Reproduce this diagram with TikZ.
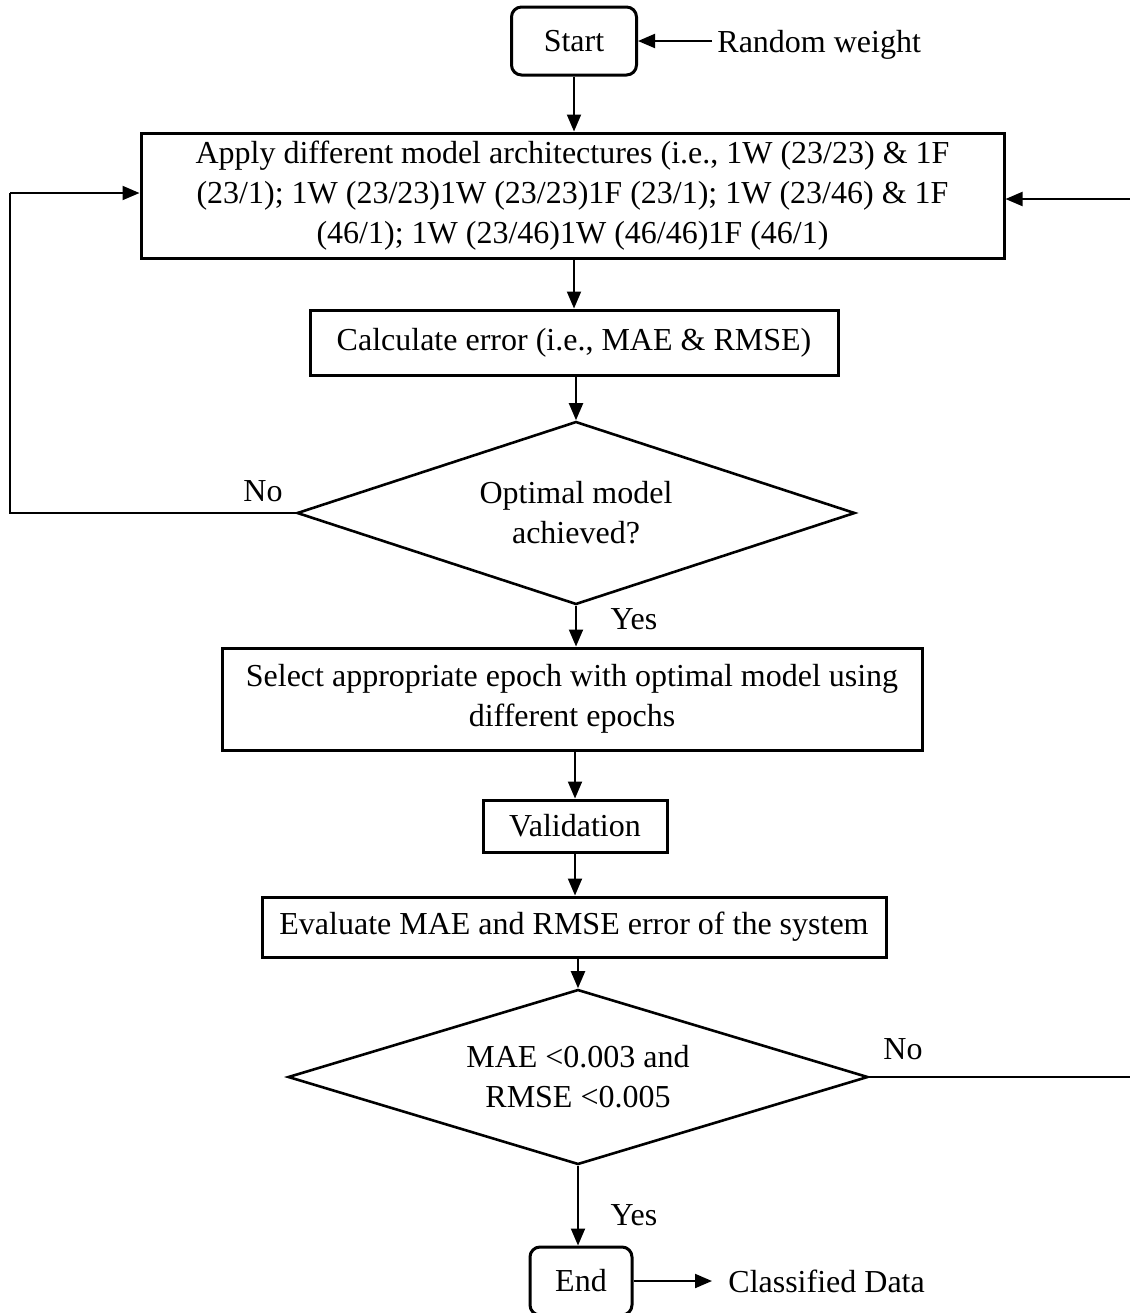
\documentclass[tikz,border=0pt]{standalone}
\usepackage{fontspec}
\setmainfont{Liberation Serif}
\usetikzlibrary{shapes.geometric,arrows.meta}
\begin{document}
\begin{tikzpicture}[x=0.5pt,y=-0.5pt,
  font=\fontsize{16pt}{20pt}\selectfont,
  box/.style={draw,line width=1.5pt,inner sep=0pt,align=center},
  term/.style={box,rounded corners=5pt},
  dec/.style={draw,diamond,aspect=3,line width=1.3pt,inner sep=0pt,align=center},
  arr/.style={line width=1pt,-{Triangle[length=8.5pt,width=7pt]}},
  loopline/.style={line width=0.7pt},
  lbl/.style={inner sep=0pt,text height=11pt,text depth=3.5pt}]
\useasboundingbox (0,0) rectangle (1130,1313);
\node[term,minimum width=62.5pt,minimum height=34pt] (start) at (574,41) {Start};
\node[lbl,anchor=west] (rw) at (717,45) {Random weight};
\node[box,minimum width=431.5pt,minimum height=62.5pt] (apply) at (572.5,195.5)
  {Apply different model architectures (i.e., 1W (23/23) \& 1F\\(23/1); 1W (23/23)1W (23/23)1F (23/1); 1W (23/46) \& 1F\\(46/1); 1W (23/46)1W (46/46)1F (46/1)};
\node[box,minimum width=264pt,minimum height=32.5pt] (calc) at (574,342.5) {Calculate error (i.e., MAE \& RMSE)};
\node[dec,minimum width=279pt,minimum height=91.5pt] (d1) at (576,513) {Optimal model\\achieved?};
\node[box,minimum width=350pt,minimum height=51pt] (sel) at (572,699)
  {Select appropriate epoch with optimal model using\\different epochs};
\node[box,minimum width=92pt,minimum height=26pt] (val) at (575,826) {Validation};
\node[box,minimum width=312pt,minimum height=30pt] (eval) at (574,927) {Evaluate MAE and RMSE error of the system};
\node[dec,minimum width=290pt,minimum height=87.5pt] (d2) at (578,1077) {MAE <0.003 and\\RMSE <0.005};
\node[term,minimum width=51pt,minimum height=34pt] (end) at (581,1281) {End};
\node[lbl,anchor=west] (cd) at (728,1285) {Classified Data};
\node[lbl] (no1) at (263,494) {No};
\node[lbl] (yes1) at (634,622) {Yes};
\node[lbl] (no2) at (903,1052) {No};
\node[lbl] (yes2) at (634,1218) {Yes};
\coordinate (lc1) at (10,513);
\coordinate (lc2) at (10,193);
\coordinate (rc1) at (1140,1077);
\coordinate (rc2) at (1140,199);
\draw[arr] ([xshift=-2.5pt]rw.west |- start.east) -- (start.east);
\draw[arr] (start.south) -- (start.south |- apply.north);
\draw[arr] (apply.south -| calc.north) -- (calc.north);
\draw[arr] (calc.south -| d1.north) -- (d1.north);
\draw[arr] (d1.south) -- (d1.south |- sel.north);
\draw[arr] (sel.south -| val.north) -- (val.north);
\draw[arr] (val.south) -- (val.south |- eval.north);
\draw[arr] (eval.south -| d2.north) -- (d2.north);
\draw[arr] (d2.south) -- (d2.south |- end.north);
\draw[arr] (end.east) -- ([xshift=-8pt]cd.west |- end.east);
\draw[loopline] (d1.west) -- (lc1) -- (lc2);
\draw[arr] (lc2) -- (lc2 -| apply.west);
\draw[loopline] (d2.east) -- (rc1) -- (rc2);
\draw[arr] (rc2) -- (rc2 -| apply.east);
\end{tikzpicture}
\end{document}
